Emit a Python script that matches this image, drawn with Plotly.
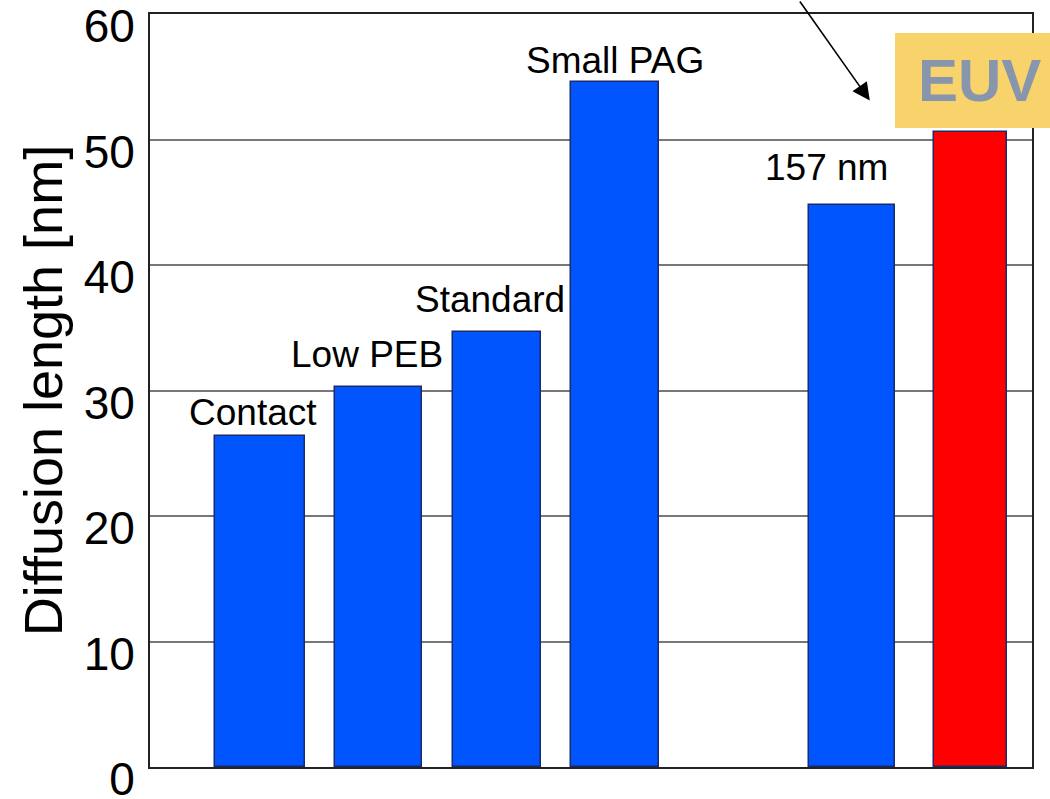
import plotly.graph_objects as go

# ---- data ----
categories = ["Contact", "Low PEB", "Standard", "Small PAG", "", "157 nm", "EUV"]
values = [26.4, 30.3, 34.7, 54.6, None, 44.8, 50.6]
labels = ["Contact", "Low PEB", "Standard", "Small PAG", "", "157 nm", ""]
y_ticks = [0, 10, 20, 30, 40, 50, 60]

# ---- styles ----
blue = "#0055FF"
red = "#FF0000"
outline = "#1B2A6B"
colors = [blue, blue, blue, blue, blue, blue, red]
widths = [0.76, 0.74, 0.74, 0.74, 0.74, 0.73, 0.62]
label_dx = [-0.06, -0.1, -0.06, 0.0, 0, -0.22, 0]   # offset of label from bar centre (slots)
label_dy = [23, 32, 32, 21, 0, 37, 0]                # px above bar top
FONT = "Liberation Sans, Arial, sans-serif"

idx = list(range(len(categories)))
fig = go.Figure()
fig.add_trace(go.Bar(
    x=idx, y=values, width=widths,
    marker=dict(color=colors, line=dict(color=outline, width=1.5)),
    hoverinfo="skip", showlegend=False,
))

for i, (lab, v) in enumerate(zip(labels, values)):
    if not lab or v is None:
        continue
    fig.add_annotation(x=i + label_dx[i], y=v, text=lab, showarrow=False,
                       yanchor="middle", yshift=label_dy[i],
                       font=dict(family=FONT, size=37, color="black"))

# arrow pointing to EUV
fig.add_annotation(x=6 - 0.85, y=values[6] + 2.5, xref="x", yref="y", text="",
                   showarrow=True, arrowhead=2, arrowsize=2.2, arrowwidth=1.6,
                   arrowcolor="black", ax=-71, ay=-104)

# EUV box
fig.add_shape(type="rect", xref="paper", yref="paper",
              x0=0.8447, x1=1.03, y0=0.8486, y1=0.9748,
              fillcolor="#F8D36B", line=dict(width=0), layer="above")
fig.add_annotation(xref="paper", yref="paper", x=0.941, y=0.9117, text="<b>EUV</b>",
                   showarrow=False, xanchor="center", yanchor="middle",
                   font=dict(family=FONT, size=60, color="#8796AC"))

fig.update_layout(
    width=1050, height=799,
    margin=dict(l=150, r=18, t=14, b=32),
    paper_bgcolor="white", plot_bgcolor="white",
    bargap=0,
    font=dict(family=FONT, color="black"),
)
fig.update_xaxes(range=[-0.93, 6.52], showticklabels=False, showgrid=False,
                 zeroline=False, showline=True, linecolor="#222222", linewidth=2,
                 mirror=True, ticks="", automargin=False)
fig.update_yaxes(range=[0, 60], tickvals=y_ticks, showgrid=True,
                 gridcolor="#777777", gridwidth=2, zeroline=False,
                 showline=True, linecolor="#222222", linewidth=2, mirror=True,
                 ticks="", tickfont=dict(family=FONT, size=46, color="black"),
                 ticklabelstandoff=4, ticklabelshift=12, ticklabeloverflow="allow",
                 automargin=False,
                 title=dict(text="Diffusion length [nm]", standoff=4,
                            font=dict(family=FONT, size=54, color="black")))

fig.write_html("out.html",
               config={"displayModeBar": False},
               post_script="document.body.style.margin='0';"
                           "document.body.style.overflow='hidden';")
